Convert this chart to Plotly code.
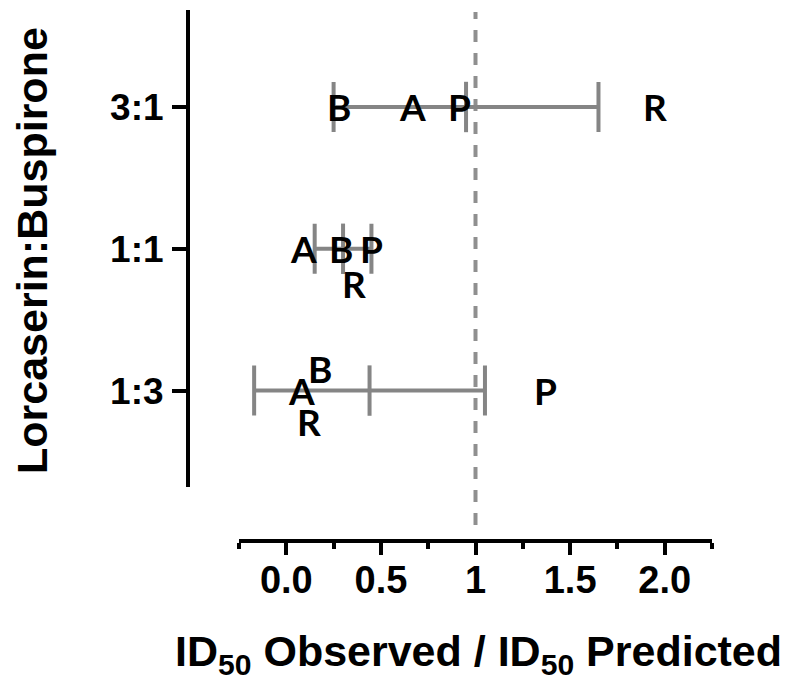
import plotly.graph_objects as go

# ---------------- data ----------------
ratios = ["1:3", "1:1", "3:1"]            # Lorcaserin:Buspirone (bottom -> top)
mean_ratio = [0.44, 0.30, 0.95]           # ID50 observed / ID50 predicted (mean)
ci_half = [0.61, 0.15, 0.70]              # error bar half-width

letters = ["A", "B", "P", "R"]
letter_vals_1_3 = [0.08, 0.18, 1.37, 0.12]
letter_vals_1_1 = [0.09, 0.29, 0.45, 0.36]
letter_vals_3_1 = [0.665, 0.28, 0.915, 1.95]

x_tickvals = [0, 0.5, 1, 1.5, 2]
x_ticktext = ["0.0", "0.5", "1", "1.5", "2.0"]

# ---------------- style / layout ----------------
PAGE_OFF = 8                      # browser default body margin
W, H = 788 - PAGE_OFF, 685 - PAGE_OFF
GRAY = "#858585"
FONT = "Liberation Sans, Arial, sans-serif"
LETTER_FONT = "Lato, Open Sans, sans-serif"

# vertical nudges for overlapping letter labels (px, + = up)
LABEL_NUDGE = {("1:3", "B"): 22, ("1:3", "R"): -31, ("1:1", "R"): -35}


def px_x(p):
    return (p - PAGE_OFF) / W


def px_y(p):
    return 1 - (p - PAGE_OFF) / H


fig = go.Figure()

fig.add_trace(go.Scatter(
    x=mean_ratio, y=ratios, mode="markers",
    marker=dict(symbol="line-ns", size=36, color=GRAY,
                line=dict(color=GRAY, width=4)),
    error_x=dict(type="data", array=ci_half, color=GRAY,
                 thickness=4, width=25),
    showlegend=False, hoverinfo="skip",
))

annotations = []
for ratio, vals in zip(["1:3", "1:1", "3:1"],
                       [letter_vals_1_3, letter_vals_1_1, letter_vals_3_1]):
    for let, v in zip(letters, vals):
        annotations.append(dict(
            x=v, y=ratio, xref="x", yref="y", text=let, showarrow=False,
            yshift=LABEL_NUDGE.get((ratio, let), 0),
            font=dict(family=LETTER_FONT, size=37, color="black", weight="bold"),
            xanchor="center", yanchor="middle",
        ))

# axis titles
annotations.append(dict(
    x=px_x(478), y=px_y(654), xref="paper", yref="paper",
    text="ID<sub>50</sub> Observed / ID<sub>50</sub> Predicted",
    showarrow=False, xanchor="center", yanchor="middle",
    font=dict(family=FONT, size=43, color="black", weight="bold"),
))
annotations.append(dict(
    x=px_x(32), y=px_y(251), xref="paper", yref="paper",
    text="Lorcaserin:Buspirone", textangle=-90,
    showarrow=False, xanchor="center", yanchor="middle",
    font=dict(family=FONT, size=43, color="black", weight="bold"),
))

fig.add_shape(type="line", xref="x", yref="paper", x0=1, x1=1,
              y0=px_y(525), y1=px_y(12),
              line=dict(color="#8f8f8f", width=4, dash="12px,11px"),
              layer="below")

fig.update_layout(
    width=W, height=H,
    margin=dict(l=0, r=0, t=0, b=0),
    paper_bgcolor="white", plot_bgcolor="white",
    annotations=annotations,
    xaxis=dict(
        domain=[px_x(239), px_x(712)],
        anchor="free", position=px_y(541),
        range=[-0.25, 2.25],
        showline=True, linecolor="black", linewidth=4,
        showgrid=False, zeroline=False,
        tickvals=x_tickvals, ticktext=x_ticktext,
        ticks="outside", ticklen=12, tickwidth=4, tickcolor="black",
        ticklabelstandoff=-8,
        tickfont=dict(family=FONT, size=38, color="black", weight="bold"),
        minor=dict(ticks="outside", ticklen=6, tickwidth=4,
                   tickcolor="black", tick0=-0.25, dtick=0.5),
    ),
    yaxis=dict(
        domain=[px_y(487), px_y(10)],
        anchor="free", position=px_x(188),
        type="category", categoryorder="array", categoryarray=ratios,
        range=[-0.68, 2.684],
        showline=True, linecolor="black", linewidth=4,
        showgrid=False, zeroline=False,
        ticks="outside", ticklen=14, tickwidth=4, tickcolor="black",
        ticklabelstandoff=1,
        tickfont=dict(family=FONT, size=37, color="black", weight="bold"),
    ),
)

fig.write_html("out.html")
